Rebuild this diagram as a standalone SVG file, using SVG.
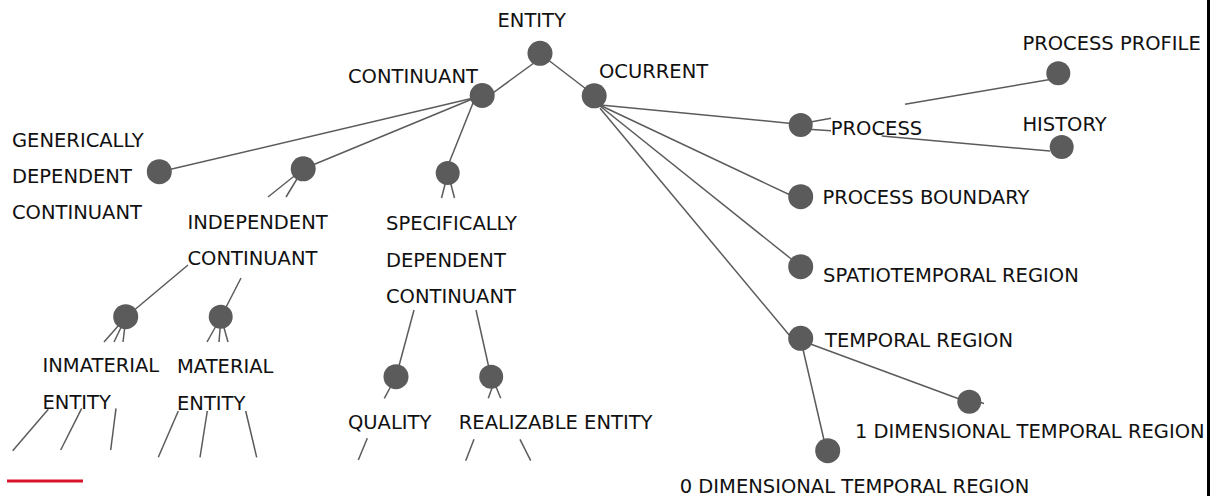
<svg xmlns="http://www.w3.org/2000/svg" width="1217" height="496" viewBox="0 0 1217 496">
<style>
.e{stroke:#5b5b5b;stroke-width:1.5;fill:none}
.n{fill:#5b5b5b}
.t{font-family:"DejaVu Sans","Liberation Sans",sans-serif;font-size:19.5px;fill:#111}
</style>
<rect width="1217" height="496" fill="#fff"/>
<g id="connectors">
<line class="e" x1="486" y1="98" x2="538" y2="60"/>
<line class="e" x1="545" y1="57.5" x2="590" y2="92"/>
<line class="e" x1="482" y1="96" x2="159" y2="172"/>
<line class="e" x1="482" y1="95" x2="303" y2="169"/>
<line class="e" x1="476" y1="95.5" x2="445" y2="173"/>
<line class="e" x1="303" y1="169" x2="268" y2="197"/>
<line class="e" x1="188" y1="265" x2="126" y2="317"/>
<line class="e" x1="303" y1="169" x2="286" y2="197"/>
<line class="e" x1="241" y1="278" x2="221" y2="317"/>
<line class="e" x1="448" y1="173" x2="441.5" y2="198"/>
<line class="e" x1="414" y1="310" x2="396" y2="377"/>
<line class="e" x1="448" y1="173" x2="454.5" y2="198"/>
<line class="e" x1="476" y1="310" x2="491" y2="377"/>
<line class="e" x1="126" y1="317" x2="104" y2="342"/>
<line class="e" x1="126" y1="317" x2="114" y2="342"/>
<line class="e" x1="126" y1="317" x2="123" y2="342"/>
<line class="e" x1="48.3" y1="409.3" x2="12.7" y2="450.7"/>
<line class="e" x1="81.7" y1="408.3" x2="60.7" y2="450"/>
<line class="e" x1="116" y1="408.3" x2="110.7" y2="450"/>
<line class="e" x1="221" y1="317" x2="207" y2="342"/>
<line class="e" x1="221" y1="317" x2="219" y2="342"/>
<line class="e" x1="221" y1="317" x2="228" y2="342"/>
<line class="e" x1="178.3" y1="411" x2="158.3" y2="457.3"/>
<line class="e" x1="207.3" y1="411" x2="200" y2="457.3"/>
<line class="e" x1="245.7" y1="411" x2="256.7" y2="457.3"/>
<line class="e" x1="391" y1="386" x2="384.3" y2="398.3"/>
<line class="e" x1="367.3" y1="438.3" x2="358.3" y2="460"/>
<line class="e" x1="492.7" y1="386" x2="488.3" y2="398.3"/>
<line class="e" x1="495.7" y1="386" x2="500.7" y2="398.3"/>
<line class="e" x1="474" y1="439.3" x2="465.7" y2="460.7"/>
<line class="e" x1="520" y1="439.3" x2="530.7" y2="460.7"/>
<line class="e" x1="598" y1="104.7" x2="801" y2="124.4"/>
<line class="e" x1="600" y1="105.3" x2="795" y2="197.3"/>
<line class="e" x1="600" y1="106" x2="795" y2="262"/>
<line class="e" x1="600" y1="108.3" x2="790" y2="336"/>
<line class="e" x1="805" y1="123" x2="831" y2="118.3"/>
<line class="e" x1="905" y1="104.3" x2="1050" y2="79.5"/>
<line class="e" x1="805" y1="129" x2="831" y2="130.7"/>
<line class="e" x1="881.7" y1="136" x2="1050" y2="151"/>
<line class="e" x1="805" y1="342" x2="962" y2="400"/>
<line class="e" x1="802" y1="345" x2="824" y2="440"/>
<line class="e" x1="979" y1="402" x2="984" y2="403.5"/>
</g>
<g id="entity"><circle class="n" cx="540" cy="53.3" r="12.5"/><text class="t" x="497.5" y="27">ENTITY</text></g>
<g id="continuant"><circle class="n" cx="482.2" cy="95.5" r="12.5"/><text class="t" x="348" y="83">CONTINUANT</text></g>
<g id="ocurrent"><circle class="n" cx="594.2" cy="95.8" r="12.5"/><text class="t" x="599" y="78.3">OCURRENT</text></g>
<g id="gdc"><circle class="n" cx="159.3" cy="171.7" r="12.5"/><text class="t" x="12"><tspan x="12" y="146.5">GENERICALLY</tspan><tspan x="12" y="183">DEPENDENT</tspan><tspan x="12" y="219">CONTINUANT</tspan></text></g>
<g id="ic"><circle class="n" cx="303.2" cy="168.8" r="12.5"/><text class="t"><tspan x="187.5" y="228.5">INDEPENDENT</tspan><tspan x="187.5" y="265">CONTINUANT</tspan></text></g>
<g id="sdc"><circle class="n" cx="447.7" cy="173" r="12"/><text class="t"><tspan x="386" y="230">SPECIFICALLY</tspan><tspan x="386" y="266.5">DEPENDENT</tspan><tspan x="386" y="303.3">CONTINUANT</tspan></text></g>
<g id="inmaterial"><circle class="n" cx="125.7" cy="316.7" r="12.5"/><text class="t"><tspan x="42.5" y="371.5">INMATERIAL</tspan><tspan x="42.5" y="409">ENTITY</tspan></text></g>
<g id="material"><circle class="n" cx="220.7" cy="316.7" r="12"/><text class="t"><tspan x="177" y="372.5">MATERIAL</tspan><tspan x="177" y="410">ENTITY</tspan></text></g>
<g id="quality"><circle class="n" cx="396" cy="376.7" r="12.5"/><text class="t" x="348" y="428.5">QUALITY</text></g>
<g id="realizable"><circle class="n" cx="491.2" cy="376.7" r="12"/><text class="t" x="458.8" y="428.5">REALIZABLE ENTITY</text></g>
<g id="process"><circle class="n" cx="800.7" cy="125" r="12"/><text class="t" x="830.8" y="135">PROCESS</text></g>
<g id="process-profile"><circle class="n" cx="1058.3" cy="73.3" r="12"/><text class="t" x="1022.4" y="50">PROCESS PROFILE</text></g>
<g id="history"><circle class="n" cx="1061.7" cy="147" r="12"/><text class="t" x="1022.4" y="130.7">HISTORY</text></g>
<g id="process-boundary"><circle class="n" cx="800.7" cy="196.7" r="12.5"/><text class="t" x="822.4" y="204">PROCESS BOUNDARY</text></g>
<g id="spatiotemporal-region"><circle class="n" cx="800.7" cy="266.7" r="12.5"/><text class="t" x="823" y="281.5">SPATIOTEMPORAL REGION</text></g>
<g id="temporal-region"><circle class="n" cx="800.7" cy="338.3" r="12.5"/><text class="t" x="825" y="346.5">TEMPORAL REGION</text></g>
<g id="one-d"><circle class="n" cx="969.3" cy="401.7" r="12"/><text class="t" x="855" y="438.3">1 DIMENSIONAL TEMPORAL REGION</text></g>
<g id="zero-d"><circle class="n" cx="827.7" cy="450.7" r="12.5"/><text class="t" x="679.7" y="492.5">0 DIMENSIONAL TEMPORAL REGION</text></g>
<line x1="7" y1="481" x2="83" y2="481" stroke="#d8132b" stroke-width="3"/>
<rect x="1207" y="0" width="3" height="496" fill="#000"/>
</svg>
